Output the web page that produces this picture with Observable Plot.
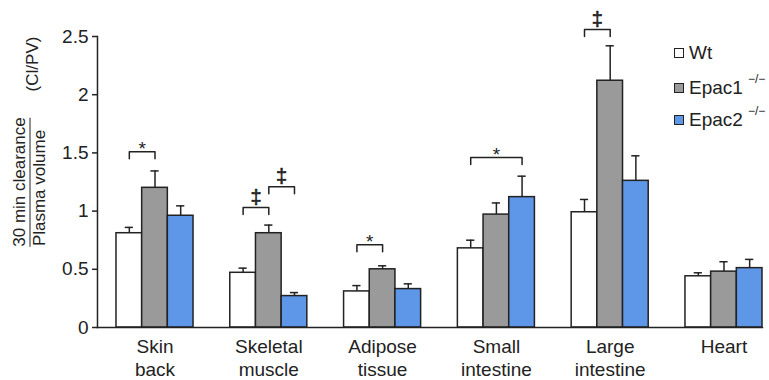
<!DOCTYPE html>
<html>
<head>
<meta charset="utf-8">
<script src="https://cdn.jsdelivr.net/npm/d3@7"></script>
<script src="https://cdn.jsdelivr.net/npm/@observablehq/plot@0.6"></script>
<style>
  html, body { margin: 0; padding: 0; background: #ffffff; }
  #wrap { position: relative; width: 769px; height: 380px; font-family: "Liberation Sans", Arial, sans-serif; color: #222; }
  .rot { position: absolute; transform: translate(-50%, -50%) rotate(-90deg); white-space: nowrap; font-size: 17px; line-height: 20px; }
  #legend { position: absolute; left: 674px; top: 42px; font-size: 19px; }
  .lrow { position: absolute; left: 0; white-space: nowrap; display: flex; align-items: center; }
  .sw { width: 8px; height: 8px; border: 1.3px solid #222; margin-right: 5px; }
  .sup { font-size: 12px; position: relative; top: -9px; margin-left: 5px; }
</style>
</head>
<body>
<div id="wrap"></div>
<script>
// ---- data ----
const groups = ["Skin back", "Skeletal muscle", "Adipose tissue", "Small intestine", "Large intestine", "Heart"];
const groupLabels = ["Skin\nback", "Skeletal\nmuscle", "Adipose\ntissue", "Small\nintestine", "Large\nintestine", "Heart"];
const series = ["Wt", "Epac1", "Epac2"];
const seriesColors = ["#ffffff", "#9a9a9a", "#5e96e8"];
const wtValues    = [0.81, 0.47, 0.31, 0.68, 0.99, 0.44];
const wtErr       = [0.05, 0.04, 0.05, 0.07, 0.11, 0.03];
const epac1Values = [1.20, 0.81, 0.50, 0.97, 2.12, 0.48];
const epac1Err    = [0.145, 0.07, 0.03, 0.10, 0.30, 0.085];
const epac2Values = [0.96, 0.27, 0.33, 1.12, 1.26, 0.51];
const epac2Err    = [0.085, 0.03, 0.045, 0.18, 0.215, 0.075];
const yTicks = [0, 0.5, 1, 1.5, 2, 2.5];
const yTickLabels = ["0", "0.5", "1", "1.5", "2", "2.5"];
// significance brackets
const sigGroup = ["Skin back", "Skeletal muscle", "Skeletal muscle", "Adipose tissue", "Small intestine", "Large intestine"];
const sigFrom  = [0, 0, 1, 0, 0, 0];
const sigTo    = [1, 1, 2, 1, 2, 1];
const sigY     = [1.51, 1.03, 1.21, 0.71, 1.46, 2.56];
const sigMark  = ["*", "‡", "‡", "*", "*", "‡"];

// ---- build tables ----
const allValues = [wtValues, epac1Values, epac2Values];
const allErr = [wtErr, epac1Err, epac2Err];
const rows = [];
groups.forEach((g, i) => series.forEach((s, j) => {
  rows.push({group: g, series: s, s: j, value: allValues[j][i], hi: allValues[j][i] + allErr[j][i]});
}));
const tickDrop = 0.06;
const bracketPts = [];
const sigRows = [];
sigGroup.forEach((g, k) => {
  const id = k;
  bracketPts.push({id, group: g, x: sigFrom[k], y: sigY[k] - tickDrop});
  bracketPts.push({id, group: g, x: sigFrom[k], y: sigY[k]});
  bracketPts.push({id, group: g, x: sigTo[k], y: sigY[k]});
  bracketPts.push({id, group: g, x: sigTo[k], y: sigY[k] - tickDrop});
  sigRows.push({group: g, x: (sigFrom[k] + sigTo[k]) / 2, y: sigY[k], mark: sigMark[k]});
});
const ink = "#222";

const chart = Plot.plot({
  width: 769,
  height: 380,
  marginLeft: 97,
  marginRight: 3,
  marginTop: 36,
  marginBottom: 53,
  style: {fontFamily: "'Liberation Sans', Arial, sans-serif", color: ink, background: "transparent", overflow: "visible"},
  fx: {domain: groups, paddingInner: 0.323, paddingOuter: 0.101, align: 0.826, round: false, label: null},
  x: {domain: [-0.5, 2.5], axis: null},
  y: {domain: [0, 2.5], label: null},
  color: {domain: series, range: seriesColors},
  marks: [
    Plot.rectY(rows, {fx: "group", x1: d => d.s - 0.5, x2: d => d.s + 0.5, y: "value", fill: "series", stroke: ink, strokeWidth: 1.5}),
    Plot.ruleX(rows, {fx: "group", x: "s", y1: "value", y2: "hi", stroke: ink, strokeWidth: 1.5}),
    Plot.ruleY(rows, {fx: "group", x1: d => d.s - 0.16, x2: d => d.s + 0.16, y: "hi", stroke: ink, strokeWidth: 1.5}),
    Plot.line(bracketPts, {fx: "group", x: "x", y: "y", z: "id", stroke: ink, strokeWidth: 1.5}),
    Plot.text(sigRows.filter(d => d.mark === "*"), {fx: "group", x: "x", y: "y", text: "mark", fontSize: 19, lineAnchor: "bottom", dy: 3, fill: ink}),
    Plot.text(sigRows.filter(d => d.mark !== "*"), {fx: "group", x: "x", y: "y", text: "mark", fontSize: 20, lineAnchor: "bottom", dy: -4, fill: ink, stroke: ink, strokeWidth: 0.6}),
    Plot.frame({anchor: "left", facet: "super", insetLeft: -19, stroke: ink, strokeWidth: 1.5}),
    Plot.frame({anchor: "bottom", facet: "super", insetLeft: -19, stroke: ink, strokeWidth: 1.5}),
    Plot.axisY({ticks: yTicks, tickFormat: d => yTickLabels[yTicks.indexOf(d)], tickSize: 5, tickPadding: 4, fontSize: 19, strokeWidth: 1.5, dx: -19, label: null}),
    Plot.axisFx({anchor: "bottom", tickSize: 0, tickPadding: 9, fontSize: 19, lineHeight: 1.22, tickFormat: d => groupLabels[groups.indexOf(d)], label: null})
  ]
});

const wrap = document.getElementById("wrap");
wrap.appendChild(chart);

// y-axis label (fraction)
function addRot(text, cx, cy, extra) {
  const el = document.createElement("div");
  el.className = "rot";
  el.textContent = text;
  el.style.left = cx + "px";
  el.style.top = cy + "px";
  if (extra) Object.assign(el.style, extra);
  wrap.appendChild(el);
}
addRot("(Cl/PV)", 33, 64);
addRot("30 min clearance", 20, 182, {borderBottom: "1.5px solid #222", paddingBottom: "0px"});
addRot("Plasma volume", 40, 188);

// legend
const legend = document.createElement("div");
legend.id = "legend";
const legendTops = [0, 35, 67];
series.forEach((s, i) => {
  const row = document.createElement("div");
  row.className = "lrow";
  row.style.top = legendTops[i] + "px";
  const sw = document.createElement("span");
  sw.className = "sw";
  sw.style.background = seriesColors[i];
  row.appendChild(sw);
  const t = document.createElement("span");
  t.textContent = s;
  row.appendChild(t);
  if (i > 0) {
    const sup = document.createElement("span");
    sup.className = "sup";
    sup.textContent = "−/−";
    row.appendChild(sup);
  }
  legend.appendChild(row);
});
wrap.appendChild(legend);
</script>
</body>
</html>
